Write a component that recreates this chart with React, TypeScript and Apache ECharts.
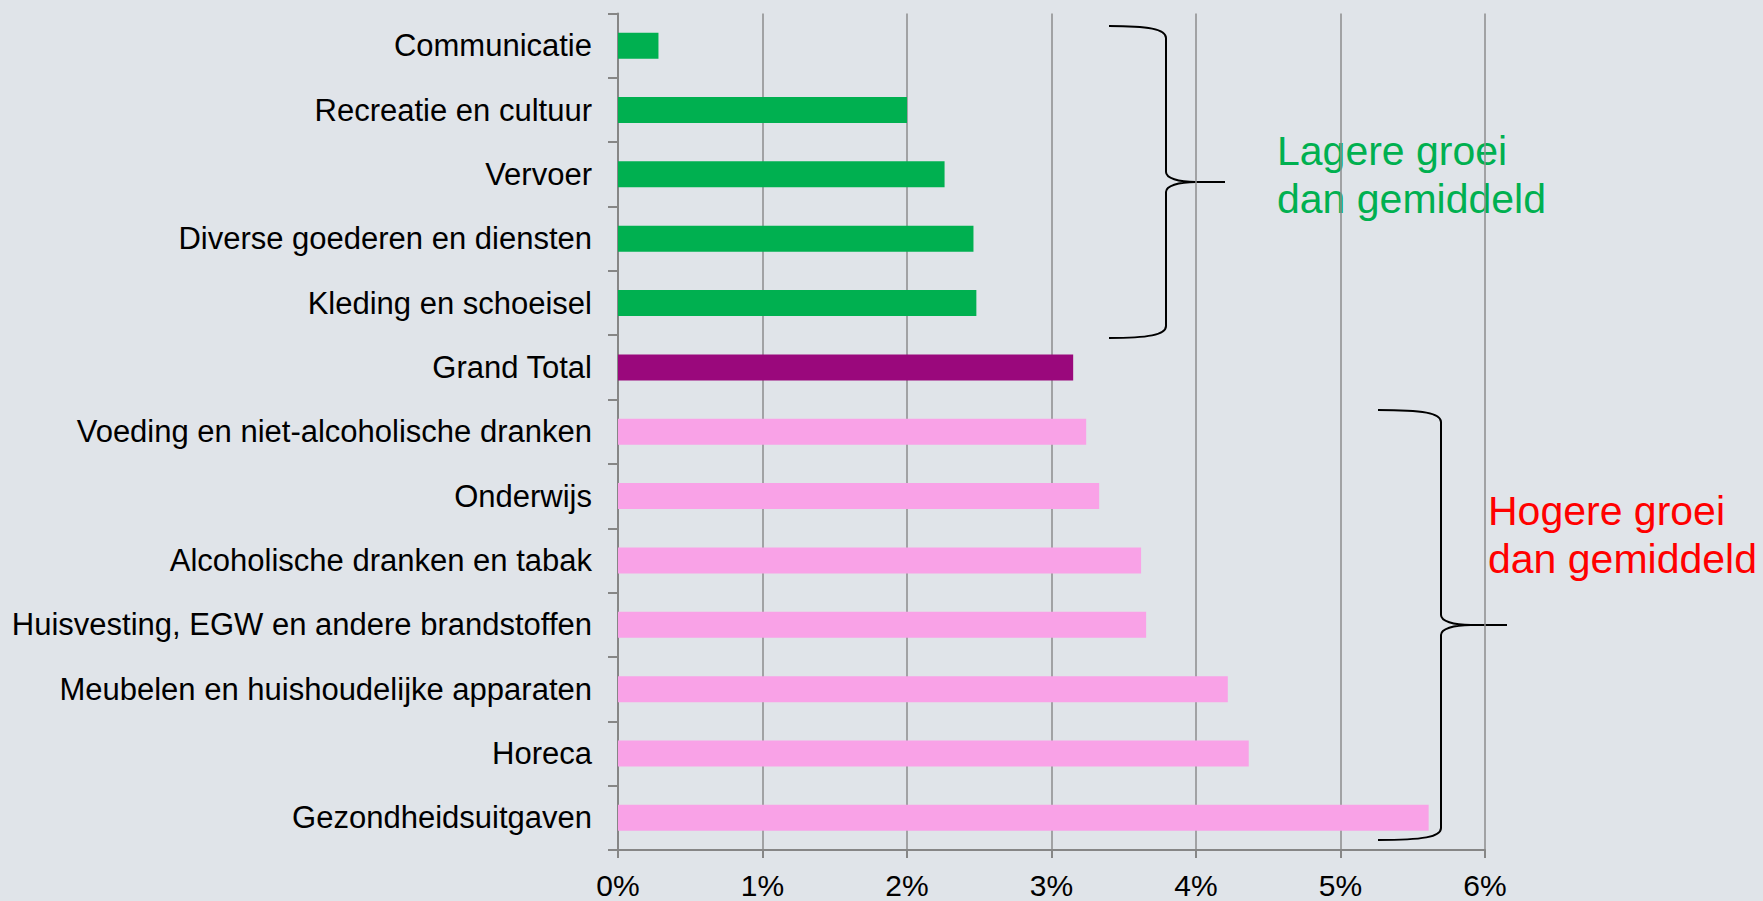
import React, { useEffect, useRef } from "react";
import * as echarts from "echarts";

const categories = [
  "Communicatie",
  "Recreatie en cultuur",
  "Vervoer",
  "Diverse goederen en diensten",
  "Kleding en schoeisel",
  "Grand Total",
  "Voeding en niet-alcoholische dranken",
  "Onderwijs",
  "Alcoholische dranken en tabak",
  "Huisvesting, EGW en andere brandstoffen",
  "Meubelen en huishoudelijke apparaten",
  "Horeca",
  "Gezondheidsuitgaven",
];
const values = [0.28, 2.0, 2.26, 2.46, 2.48, 3.15, 3.24, 3.33, 3.62, 3.655, 4.22, 4.365, 5.61];
const groups = ["low", "low", "low", "low", "low", "total", "high", "high", "high", "high", "high", "high", "high"];
const groupColors: Record<string, string> = { low: "#00b050", total: "#9a087c", high: "#f9a2e7" };
const xTicks = [0, 1, 2, 3, 4, 5, 6];
const lowText = "Lagere groei\ndan gemiddeld";
const highText = "Hogere groei\ndan gemiddeld";

function bracePath(x0: number, xv: number, xtip: number, yTop: number, yBot: number): string {
  const ym = (yTop + yBot) / 2;
  return [
    `M${x0},${yTop}`,
    `C${xv - 18},${yTop} ${xv},${yTop + 3} ${xv},${yTop + 12}`,
    `L${xv},${ym - 10}`,
    `C${xv},${ym - 4} ${xv + 12},${ym} ${xv + 30},${ym}`,
    `L${xtip},${ym}`,
    `M${xv + 30},${ym}`,
    `C${xv + 12},${ym} ${xv},${ym + 4} ${xv},${ym + 10}`,
    `L${xv},${yBot - 12}`,
    `C${xv},${yBot - 3} ${xv - 18},${yBot} ${x0},${yBot}`,
  ].join(" ");
}

echarts.graphic.registerShape("braceLow", echarts.graphic.extendPath(bracePath(1109, 1166, 1225, 26, 338), {}) as any);
echarts.graphic.registerShape("braceHigh", echarts.graphic.extendPath(bracePath(1378, 1441, 1507, 410, 840), {}) as any);

const FONT = "'Liberation Sans', Arial, sans-serif";

export default function App() {
  const ref = useRef<HTMLDivElement>(null);
  useEffect(() => {
    document.body.style.margin = "0";
    const chart = echarts.init(ref.current!, null, { renderer: "svg" });
    chart.setOption({
      animation: false,
      backgroundColor: "#e0e4e9",
      grid: { left: 618, right: 278, top: 13.5, bottom: 51, containLabel: false },
      xAxis: {
        type: "value",
        min: xTicks[0],
        max: xTicks[xTicks.length - 1],
        interval: 1,
        axisLine: { show: true, lineStyle: { color: "#868686", width: 2 } },
        axisTick: { show: true, length: 8, lineStyle: { color: "#868686", width: 2 } },
        splitLine: { show: true, lineStyle: { color: "#8c8c8c", width: 1.5 } },
        axisLabel: {
          formatter: "{value}%",
          color: "#000",
          fontSize: 30,
          fontFamily: FONT,
          margin: 20,
        },
      },
      yAxis: {
        type: "category",
        inverse: true,
        data: categories,
        axisLine: { show: true, lineStyle: { color: "#868686", width: 2 } },
        axisTick: { show: true, length: 10, lineStyle: { color: "#868686", width: 2 } },
        axisLabel: { color: "#000", fontSize: 31, fontFamily: FONT, margin: 26 },
        splitLine: { show: false },
      },
      series: [
        {
          type: "bar",
          barWidth: 26,
          data: values.map((v, i) => ({ value: v, itemStyle: { color: groupColors[groups[i]] } })),
        },
      ],
      graphic: [
        { type: "braceLow", x: 0, y: 0, style: { fill: "none", stroke: "#000", lineWidth: 2 } },
        { type: "braceHigh", x: 0, y: 0, style: { fill: "none", stroke: "#000", lineWidth: 2 } },
        {
          type: "text",
          left: 1277,
          top: 127,
          style: { text: lowText, fill: "#00b050", font: `41px ${FONT}`, lineHeight: 48 },
        },
        {
          type: "text",
          left: 1488,
          top: 487,
          style: { text: highText, fill: "#ff0000", font: `41px ${FONT}`, lineHeight: 48 },
        },
      ],
    });
    return () => chart.dispose();
  }, []);
  return <div ref={ref} style={{ position: "fixed", left: 0, top: 0, width: 1763, height: 901 }} />;
}
